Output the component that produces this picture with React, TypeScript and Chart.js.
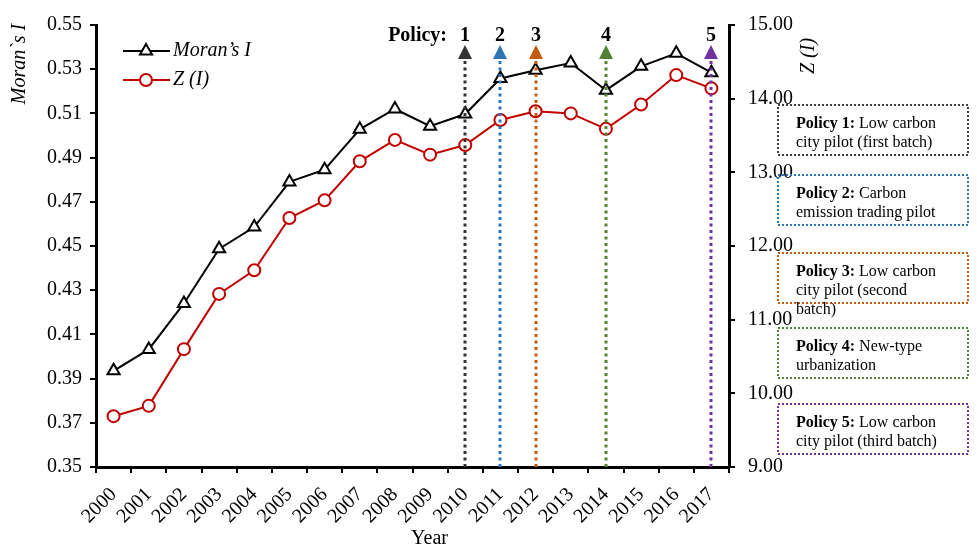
import React, { useEffect, useRef } from 'react';
import { Chart, registerables } from 'chart.js';

Chart.register(...registerables);

const years = ['2000', '2001', '2002', '2003', '2004', '2005', '2006', '2007', '2008', '2009', '2010', '2011', '2012', '2013', '2014', '2015', '2016', '2017'];
const moransI = [0.3935, 0.4032, 0.424, 0.4487, 0.4586, 0.479, 0.4845, 0.5028, 0.512, 0.5042, 0.5097, 0.5258, 0.5295, 0.5328, 0.5205, 0.5313, 0.5372, 0.5284];
const zI = [9.69, 9.83, 10.6, 11.35, 11.67, 12.38, 12.62, 13.15, 13.44, 13.24, 13.37, 13.71, 13.83, 13.8, 13.59, 13.92, 14.32, 14.14];

const leftMin = 0.35;
const leftMax = 0.55;
const leftStep = 0.02;
const rightMin = 9;
const rightMax = 15;
const rightStep = 1;

const policyYears = ['2010', '2011', '2012', '2014', '2017'];
const policyNumbers = ['1', '2', '3', '4', '5'];
const policyNames = ['Policy 1:', 'Policy 2:', 'Policy 3:', 'Policy 4:', 'Policy 5:'];
const policyDescriptions = [
  ['Low carbon', 'city pilot (first batch)'],
  ['Carbon', 'emission trading pilot'],
  ['Low carbon', 'city pilot (second', 'batch)'],
  ['New-type', 'urbanization'],
  ['Low carbon', 'city pilot (third batch)'],
];
const policyColors = ['#333333', '#2E75B6', '#C55A11', '#548235', '#7030A0'];
const boxColors = ['#404040', '#2E75B6', '#C55A11', '#548235', '#7030A0'];

const FONT = '"Liberation Serif", "Times New Roman", serif';
const BOX_TOPS = [105, 175, 253, 328, 404];

const overlayPlugin = {
  id: 'overlay',
  afterDatasetsDraw(chart: any) {
    const { ctx, chartArea, scales } = chart;
    const xs = scales.x;
    ctx.save();
    let firstX = 0;
    policyYears.forEach((yr, i) => {
      const px = Math.round(xs.getPixelForValue(years.indexOf(yr)));
      if (i === 0) firstX = px;
      ctx.strokeStyle = policyColors[i];
      ctx.lineWidth = 3;
      ctx.setLineDash([3, 3.5]);
      ctx.beginPath();
      ctx.moveTo(px, chartArea.bottom);
      ctx.lineTo(px, chartArea.top + 34);
      ctx.stroke();
      ctx.setLineDash([]);
      ctx.fillStyle = policyColors[i];
      ctx.beginPath();
      ctx.moveTo(px, chartArea.top + 20);
      ctx.lineTo(px + 7, chartArea.top + 34);
      ctx.lineTo(px - 7, chartArea.top + 34);
      ctx.closePath();
      ctx.fill();
      ctx.fillStyle = '#000';
      ctx.font = `bold 20px ${FONT}`;
      ctx.textAlign = 'center';
      ctx.textBaseline = 'middle';
      ctx.fillText(policyNumbers[i], px, chartArea.top + 11);
    });
    ctx.font = `bold 20px ${FONT}`;
    ctx.textAlign = 'right';
    ctx.fillText('Policy:', firstX - 18, chartArea.top + 11);
    ctx.restore();
  },
  afterDraw(chart: any) {
    const { ctx, chartArea } = chart;
    ctx.save();
    // legend
    const ds0 = chart.data.datasets[0];
    const ds1 = chart.data.datasets[1];
    const lx = chartArea.left + 27;
    const items = [
      { ds: ds0, label: 'Moran\u2019s I', y: chartArea.top + 26, style: 'triangle' },
      { ds: ds1, label: 'Z (I)', y: chartArea.top + 55, style: 'circle' },
    ];
    items.forEach((it) => {
      ctx.strokeStyle = it.ds.borderColor;
      ctx.lineWidth = 2;
      ctx.beginPath();
      ctx.moveTo(lx, it.y);
      ctx.lineTo(lx + 47, it.y);
      ctx.stroke();
      ctx.fillStyle = '#fff';
      const r = it.ds.pointRadius;
      ctx.beginPath();
      if (it.style === 'triangle') {
        const cx = lx + 23, cy = it.y;
        ctx.moveTo(cx, cy - r);
        ctx.lineTo(cx + r * Math.sin(Math.PI / 3), cy + r * 0.5);
        ctx.lineTo(cx - r * Math.sin(Math.PI / 3), cy + r * 0.5);
        ctx.closePath();
      } else {
        ctx.arc(lx + 23, it.y, r, 0, Math.PI * 2);
      }
      ctx.fill();
      ctx.lineWidth = it.ds.pointBorderWidth;
      ctx.strokeStyle = it.ds.pointBorderColor;
      ctx.stroke();
      ctx.fillStyle = '#000';
      ctx.font = `italic 20px ${FONT}`;
      ctx.textAlign = 'left';
      ctx.textBaseline = 'middle';
      ctx.fillText(it.label, lx + 50, it.y);
    });

    // axis titles
    ctx.fillStyle = '#000';
    ctx.font = `italic 20px ${FONT}`;
    ctx.textAlign = 'center';
    ctx.textBaseline = 'middle';
    ctx.save();
    ctx.translate(20, 64);
    ctx.rotate(-Math.PI / 2);
    ctx.fillText('Moran`s I', 0, 0);
    ctx.restore();
    ctx.save();
    ctx.translate(chartArea.right + 80, 56);
    ctx.rotate(-Math.PI / 2);
    ctx.fillText('Z (I)', 0, 0);
    ctx.restore();
    ctx.font = `20px ${FONT}`;
    ctx.fillText('Year', (chartArea.left + chartArea.right) / 2 + 17, chartArea.bottom + 72);

    // policy boxes
    const bx = chartArea.right + 49;
    const bw = 190;
    const bh = 50;
    BOX_TOPS.forEach((top, i) => {
      ctx.strokeStyle = boxColors[i];
      ctx.lineWidth = 2;
      ctx.setLineDash([2, 2]);
      ctx.strokeRect(bx, top, bw, bh);
      ctx.setLineDash([]);
      ctx.fillStyle = '#000';
      ctx.textAlign = 'left';
      ctx.textBaseline = 'middle';
      const tx = bx + 18;
      const lines = policyDescriptions[i];
      ctx.font = `bold 16px ${FONT}`;
      ctx.fillText(policyNames[i], tx, top + 19);
      const w = ctx.measureText(policyNames[i] + ' ').width;
      ctx.font = `16px ${FONT}`;
      ctx.fillText(lines[0], tx + w, top + 19);
      for (let k = 1; k < lines.length; k++) {
        ctx.fillText(lines[k], tx, top + 19 + k * 19);
      }
    });
    ctx.restore();
  },
};

export default function App() {
  const ref = useRef<HTMLCanvasElement | null>(null);
  useEffect(() => {
    document.body.style.margin = '0';
    const canvas = ref.current;
    if (!canvas) return;
    const tickFont = { family: FONT, size: 20 };
    const chart = new Chart(canvas, {
      type: 'line',
      data: {
        labels: years,
        datasets: [
          {
            label: 'Moran\u2019s I',
            data: moransI,
            yAxisID: 'y',
            borderColor: '#000000',
            borderWidth: 2,
            pointStyle: 'triangle',
            pointRadius: 7,
            pointBorderWidth: 2,
            pointBackgroundColor: '#ffffff',
            pointBorderColor: '#000000',
            tension: 0,
          } as any,
          {
            label: 'Z (I)',
            data: zI,
            yAxisID: 'y1',
            borderColor: '#C00000',
            borderWidth: 2,
            pointStyle: 'circle',
            pointRadius: 6,
            pointBorderWidth: 2,
            pointBackgroundColor: '#ffffff',
            pointBorderColor: '#C00000',
            tension: 0,
          } as any,
        ],
      },
      options: {
        responsive: false,
        animation: false,
        devicePixelRatio: 1,
        layout: { padding: { top: 17, left: 0, right: 0, bottom: 0 } },
        plugins: { legend: { display: false }, tooltip: { enabled: false } },
        scales: {
          x: {
            type: 'category',
            offset: true,
            grid: { display: true, offset: true, drawOnChartArea: false, drawTicks: true, tickLength: 6, color: '#000', lineWidth: 2 },
            border: { display: true, color: '#000', width: 3 },
            ticks: { font: tickFont, color: '#000', minRotation: 45, maxRotation: 45, autoSkip: false, padding: 10 },
            afterFit: (s: any) => { s.height = 84; },
          },
          y: {
            position: 'left',
            min: leftMin,
            max: leftMax,
            grid: { display: true, drawOnChartArea: false, drawTicks: true, tickLength: 6, color: '#000', lineWidth: 2 },
            border: { display: true, color: '#000', width: 3 },
            ticks: { stepSize: leftStep, font: tickFont, color: '#000', padding: 8, callback: (v: any) => Number(v).toFixed(2) },
            afterFit: (s: any) => { s.width = 96; },
          },
          y1: {
            position: 'right',
            min: rightMin,
            max: rightMax,
            grid: { display: true, drawOnChartArea: false, drawTicks: true, tickLength: 6, color: '#000', lineWidth: 2 },
            border: { display: true, color: '#000', width: 3 },
            ticks: { stepSize: rightStep, font: tickFont, color: '#000', padding: 13, callback: (v: any) => Number(v).toFixed(2) },
            afterFit: (s: any) => { s.width = 248; },
          },
        },
      },
      plugins: [overlayPlugin],
    });
    return () => chart.destroy();
  }, []);
  return (
    <div style={{ position: 'absolute', left: 0, top: 0, width: 977, height: 551 }}>
      <canvas ref={ref} width={977} height={551} style={{ width: 977, height: 551, display: 'block' }} />
    </div>
  );
}
